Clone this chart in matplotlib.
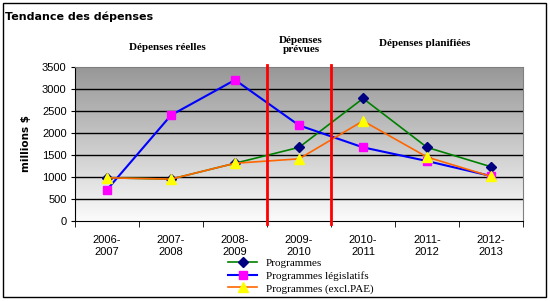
import matplotlib
matplotlib.use('Agg')
import matplotlib.pyplot as plt
import numpy as np
from matplotlib.patches import Rectangle

years = ['2006-\n2007', '2007-\n2008', '2008-\n2009', '2009-\n2010',
         '2010-\n2011', '2011-\n2012', '2012-\n2013']
programmes = [980, 950, 1310, 1670, 2780, 1670, 1230]
legislatifs = [710, 2400, 3200, 2170, 1670, 1360, 1020]
excl_pae = [980, 950, 1310, 1410, 2270, 1450, 1010]
sections = ['Dépenses réelles', 'Dépenses\nprévues', 'Dépenses planifiées']

fig = plt.figure(figsize=(5.5, 3.01), dpi=100)
ax = fig.add_axes([0.1364, 0.2658, 0.8146, 0.5126])

x = np.arange(len(years))
ax.set_xlim(-0.5, 6.5)
ax.set_ylim(0, 3500)

# gradient background: white at bottom -> grey at top
t = np.linspace(0, 1, 256)
shade = 0.985 - t * (0.985 - 0.59)
grad = np.repeat(shade[:, None, None], 3, axis=2) * np.ones((256, 2, 3))
ax.imshow(grad, aspect='auto', extent=[-0.5, 6.5, 0, 3500], origin='lower', zorder=0)

for yv in range(500, 3500, 500):
    ax.axhline(yv, color='black', lw=1, zorder=1)

ax.plot(x, programmes, color='#008000', lw=1.2, marker='D', ms=5,
        mfc='#000080', mec='#000080', zorder=3, label='Programmes')
ax.plot(x, legislatifs, color='#0000FF', lw=1.5, marker='s', ms=5.5,
        mfc='#FF00FF', mec='#FF00FF', zorder=4, label='Programmes législatifs')
ax.plot(x, excl_pae, color='#FF6600', lw=1.2, marker='^', ms=6.5,
        mfc='#FFFF00', mec='#FFFF00', zorder=5, label='Programmes (excl.PAE)')

for xv in [2.5, 3.5]:
    ax.axvline(xv, ymin=-0.02, ymax=1.01, color='red', lw=2, clip_on=False, zorder=6)

ax.set_xticks(x)
ax.set_xticklabels(years, family='Liberation Sans', fontsize=8, linespacing=1.3)
ax.set_xticks(np.arange(-0.5, 7, 1), minor=True)
ax.tick_params(axis='x', which='major', length=0, pad=10)
ax.tick_params(axis='x', which='minor', length=4, direction='out', color='black')
ax.set_yticks(range(0, 3501, 500))
ax.set_yticklabels([str(v) for v in range(0, 3501, 500)], family='Liberation Sans', fontsize=8)
ax.tick_params(axis='y', length=3, direction='out', pad=3)

for side in ['top', 'right']:
    ax.spines[side].set_color('#808080')
for side in ['left', 'bottom']:
    ax.spines[side].set_color('black')

ax.set_ylabel('millions $', fontsize=7.5, fontweight='bold', family='DejaVu Sans', labelpad=8)

fig.text(0.009, 0.945, 'Tendance des dépenses', fontsize=8, fontweight='bold',
         family='DejaVu Sans', va='center', ha='left')
fig.text(167 / 550, 1 - 47 / 301, sections[0], fontsize=8, fontweight='bold',
         family='Liberation Serif', ha='center', va='center')
fig.text(301 / 550, 1 - 45 / 301, sections[1], fontsize=8, fontweight='bold',
         family='Liberation Serif', ha='center', va='center', linespacing=1.0)
fig.text(425 / 550, 1 - 44 / 301, sections[2], fontsize=8, fontweight='bold',
         family='Liberation Serif', ha='center', va='center')

leg = fig.legend(loc='center', bbox_to_anchor=(301 / 550, 1 - 276 / 301), frameon=False,
                 prop={'family': 'Liberation Serif', 'size': 8}, handlelength=2.6,
                 labelspacing=0.25, borderpad=0, handletextpad=0.8)

fig.patches.append(Rectangle((3 / 550, 4 / 301), 543 / 550, 294 / 301, transform=fig.transFigure,
                             fill=False, edgecolor='black', lw=1))

fig.savefig('out.png', dpi=100)
